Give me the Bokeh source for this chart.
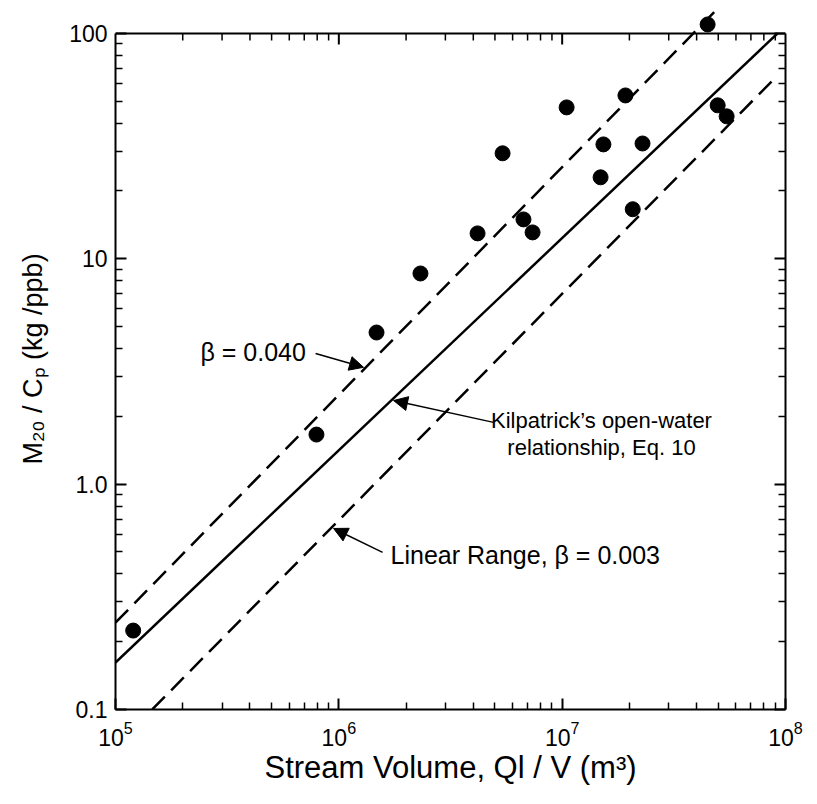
from bokeh.plotting import figure
from bokeh.models import LogAxis, FixedTicker, Range1d, Arrow, NormalHead, Label
from bokeh.embed import file_html
from bokeh.resources import INLINE

# ---------------- data ----------------
stream_volume = [1.20e5, 7.94e5, 1.475e6, 2.32e6, 4.18e6, 5.41e6, 6.71e6, 7.37e6,
                 1.047e7, 1.486e7, 1.53e7, 1.92e7, 2.07e7, 2.29e7, 4.48e7, 4.97e7, 5.45e7]
mass_ratio = [0.224, 1.66, 4.71, 8.61, 12.97, 29.4, 14.96, 13.1,
              47.0, 23.0, 32.2, 53.1, 16.6, 32.5, 109.7, 48.0, 42.9]

kilpatrick_x = [1.0e5, 9.2e7]
kilpatrick_y = [0.1617, 100.0]
beta040_x = [1.0e5, 4.97e7]
beta040_y = [0.243, 129.0]
beta003_x = [1.46e5, 9.22e7]
beta003_y = [0.1, 65.2]

x_major = [1e5, 1e6, 1e7, 1e8]
x_minor = [m * 10 ** k for k in (5, 6, 7) for m in range(2, 10)]
y_major = [0.1, 1, 10, 100]
y_minor = [m * 10 ** k for k in (-1, 0, 1) for m in range(2, 10)]
y_labels = {0.1: "0.1", 1: "1.0", 10: "10", 100: "100"}

X_MIN, X_MAX = 1e5, 1e8
Y_MIN, Y_MAX = 0.1, 100.0
Y_TOP = 129.1          # headroom above the frame, marks overflow there

FONT = "Liberation Sans"
PX_PER_DECADE = 225.3

p = figure(width=808, height=800, x_axis_type="log", y_axis_type="log",
           x_range=Range1d(X_MIN, X_MAX), y_range=Range1d(Y_MIN, Y_TOP),
           output_backend="svg", toolbar_location=None,
           min_border_left=115, min_border_right=23, min_border_top=8,
           min_border_bottom=91, background_fill_color="white",
           border_fill_color="white")
p.outline_line_color = None
p.grid.visible = False


def style_axis(ax, major, minor, label_size="23px"):
    ax.ticker = FixedTicker(ticks=major, minor_ticks=minor)
    ax.major_tick_in = 11
    ax.major_tick_out = 0
    ax.minor_tick_in = 7
    ax.minor_tick_out = 0
    ax.axis_line_width = 2
    ax.axis_line_color = "black"
    ax.major_tick_line_width = 2
    ax.major_tick_line_color = "black"
    ax.minor_tick_line_width = 1.5
    ax.minor_tick_line_color = "black"
    ax.major_label_text_font = FONT
    ax.major_label_text_font_size = label_size
    ax.major_label_text_color = "black"
    ax.axis_label_text_font = FONT
    ax.axis_label_text_font_style = "normal"
    ax.axis_label_text_color = "black"


xax = p.xaxis[0]
style_axis(xax, x_major, x_minor)
xax.bounds = (X_MIN, X_MAX)
xax.axis_label = "Stream Volume, Ql / V (m³)"
xax.axis_label_text_font_size = "31px"
xax.major_label_standoff = 11
xax.axis_label_standoff = 1

yax = p.yaxis[0]
style_axis(yax, y_major, y_minor)
yax.bounds = (Y_MIN, Y_MAX)
yax.major_label_overrides = y_labels
yax.axis_label = "M₂₀ / Cₚ (kg /ppb)"
yax.axis_label_text_font_size = "27px"
yax.major_label_standoff = 8
yax.axis_label_standoff = 18

rax = LogAxis()
style_axis(rax, y_major, y_minor, label_size="10px")
rax.bounds = (Y_MIN, Y_MAX)
rax.major_label_text_color = None
rax.major_label_standoff = 0
p.add_layout(rax, "right")

# top border with inward ticks at y = Y_MAX
p.line(x=[X_MIN, X_MAX], y=[Y_MAX, Y_MAX], line_width=2, line_color="black")
top_major = [t for t in x_major if X_MIN < t < X_MAX]
p.segment(x0=top_major, y0=[Y_MAX] * len(top_major), x1=top_major,
          y1=[Y_MAX * 10 ** (-11 / PX_PER_DECADE)] * len(top_major),
          line_width=2, line_color="black")
p.segment(x0=x_minor, y0=[Y_MAX] * len(x_minor), x1=x_minor,
          y1=[Y_MAX * 10 ** (-7 / PX_PER_DECADE)] * len(x_minor),
          line_width=1.5, line_color="black")

# reference lines
p.line(kilpatrick_x, kilpatrick_y, line_width=2.5, line_color="black")
p.line(beta040_x, beta040_y, line_width=2.5, line_color="black", line_dash="18 9")
p.line(beta003_x, beta003_y, line_width=2.5, line_color="black", line_dash="18 9")

# data points
p.scatter(stream_volume, mass_ratio, size=15, color="black")


# annotations
def arrow(xs, ys, xe, ye):
    p.add_layout(Arrow(end=NormalHead(size=14, fill_color="black", line_color="black"),
                       x_start=xs, y_start=ys, x_end=xe, y_end=ye,
                       line_width=1.5, line_color="black"))


arrow(7.87e5, 3.80, 1.29e6, 3.30)
arrow(4.93e6, 1.88, 1.758e6, 2.35)
arrow(1.57e6, 0.498, 9.47e5, 0.636)

TXT = dict(text_font=FONT, text_color="black", text_baseline="middle")
p.add_layout(Label(x=2.40e5, y=3.84, text="β = 0.040", text_align="left",
                   text_font_size="25px", **TXT))
p.add_layout(Label(x=1.50e7, y=1.67, text="Kilpatrick’s open-water\nrelationship, Eq. 10",
                   text_align="center", text_font_size="22px", text_line_height=1.1, **TXT))
p.add_layout(Label(x=1.704e6, y=0.483, text="Linear Range, β = 0.003",
                   text_align="left", text_font_size="25px", **TXT))

open("out.html", "w").write(file_html(p, INLINE))
